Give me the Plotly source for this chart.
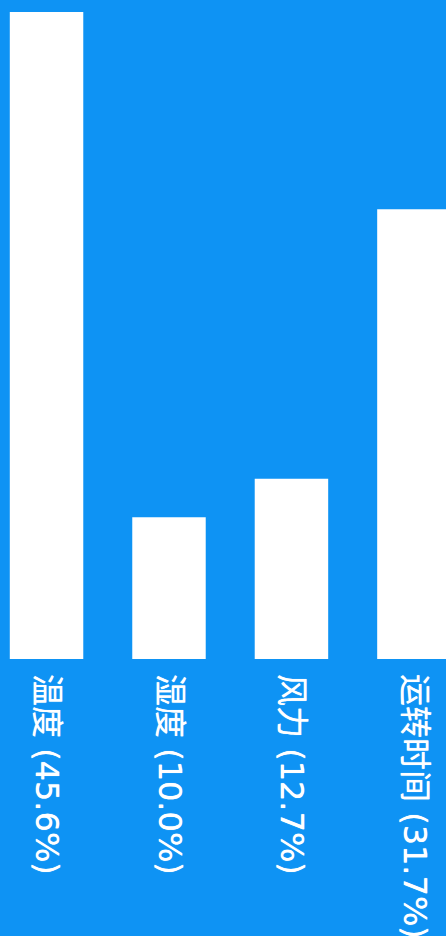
import plotly.graph_objects as go

categories = ["温度", "湿度", "风力", "运转时间"]
values = [45.6, 10.0, 12.7, 31.7]
tick_labels = [f"{c} ({v:.1f}%)" for c, v in zip(categories, values)]

BG = "#0E93F4"
FONT = "DejaVu Sans, Noto Sans CJK SC, sans-serif"

fig = go.Figure(
    go.Bar(
        x=tick_labels,
        y=values,
        width=0.6,
        marker=dict(color="white", line=dict(width=0)),
        hoverinfo="skip",
    )
)

fig.update_layout(
    width=446,
    height=936,
    margin=dict(l=0, r=0, t=0, b=277, autoexpand=False),
    paper_bgcolor=BG,
    plot_bgcolor=BG,
    showlegend=False,
    font=dict(family=FONT, color="white", size=32),
)
fig.update_xaxes(
    range=[-0.38, 3.262],
    tickangle=90,
    ticks="",
    showline=False,
    showgrid=False,
    zeroline=False,
    automargin=False,
    ticklabelstandoff=14,
    tickfont=dict(size=32, color="white", family=FONT, shadow="0px 0px 0.7px white"),
)
fig.update_yaxes(
    range=[0, 46.45],
    showticklabels=False,
    showgrid=False,
    zeroline=False,
    showline=False,
    automargin=False,
    ticks="",
)

fig.write_html(
    "out.html",
    config={"displayModeBar": False},
    post_script="document.body.style.margin='0';document.body.style.background='" + BG + "';",
)
